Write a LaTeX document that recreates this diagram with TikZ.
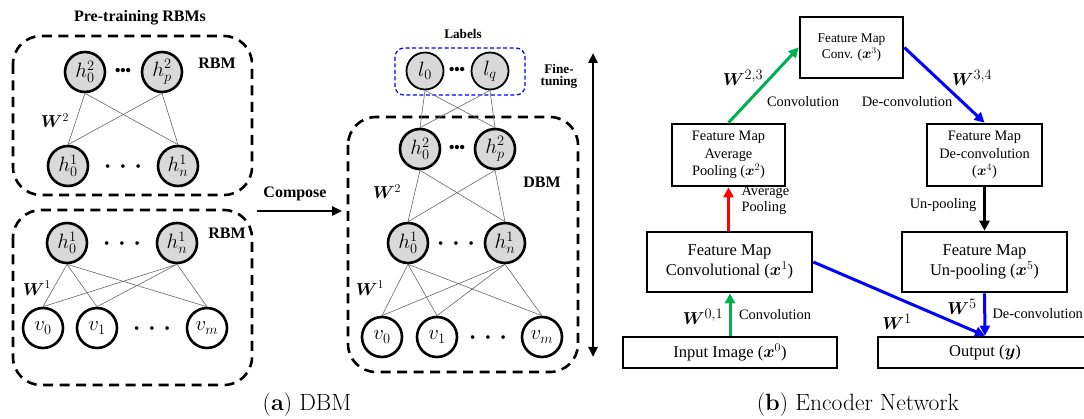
\documentclass[tikz,border=0pt]{standalone}
\usepackage{amsmath,bm}
\usepackage{fontspec}
\setmainfont{Liberation Serif}
\newfontfamily\lmfont{Latin Modern Roman}
\usetikzlibrary{arrows.meta}
\definecolor{hidgray}{HTML}{D9D9D9}
\definecolor{cgreen}{HTML}{00B050}
\definecolor{cred}{HTML}{FF0000}
\definecolor{cblue}{HTML}{0000FF}
\begin{document}
\begin{tikzpicture}[x=1pt,y=-1pt,
 unit/.style={circle,draw,line width=2.6pt,minimum size=40pt,inner sep=0pt,font=\fontsize{20}{22}\selectfont},
 hid/.style={unit,fill=hidgray},
 labu/.style={hid,minimum size=37pt,line width=1.8pt},
 conn/.style={draw=black!60,line width=0.6pt},
 dbox/.style={draw,line width=2.6pt,dash pattern=on 10pt off 6.5pt,rounded corners=28pt},
 blab/.style={font=\bfseries\fontsize{16}{18}\selectfont,align=center},
 slab/.style={font=\bfseries\fontsize{13.2}{15}\selectfont,align=center},
 wlab/.style={font=\fontsize{17}{19}\selectfont},
 wlabb/.style={font=\fontsize{19}{21}\selectfont},
 tdots/.style={font=\fontsize{18}{18}\selectfont,inner sep=0pt},
 sdots/.style={font=\fontsize{15}{15}\selectfont,inner sep=0pt},
 fbox/.style={draw,line width=2.6pt,align=center,inner sep=0pt},
 alab/.style={font=\fontsize{14.4}{16}\selectfont,align=left},
 arr/.style={line width=3pt,-{Triangle[length=10pt,width=10pt]}},
 caption/.style={font=\lmfont\fontsize{23.5}{26}\selectfont},
]
\useasboundingbox (0,0) rectangle (1084,419);

% ---------- (a) DBM ----------
\node[blab] (pretitle) at (140,18) {Pre-training RBMs};
\draw[dbox] (13,36) rectangle (252,195);
\draw[dbox] (13,210) rectangle (252,385);
\node[blab] (rbm1) at (217,63) {RBM};
\node[blab] (rbm2) at (227,233) {RBM};

% top RBM
\node[hid] (ta0) at (85,72) {$h_0^2$};
\node[hid] (tap) at (162,72) {$h_p^2$};
\node[tdots] (tadots) at (123,72) {\textbullet\kern-1pt\textbullet\kern-1pt\textbullet};
\node[hid] (tb0) at (68,166) {$h_0^1$};
\node[hid] (tbn) at (178,166) {$h_n^1$};
\node[sdots] (tbdots) at (123,168) {\textbullet\hspace{10pt}\textbullet\hspace{10pt}\textbullet};
\node[wlab] (tw2) at (55,121) {$\bm{W}^2$};
\foreach \a in {ta0,tap}{\foreach \b in {tb0,tbn}{\draw[conn] (\a.south) -- (\b.north);}}

% bottom RBM
\node[hid] (ba0) at (67,243) {$h_0^1$};
\node[hid] (ban) at (177,243) {$h_n^1$};
\node[sdots] (badots) at (122,245) {\textbullet\hspace{10pt}\textbullet\hspace{10pt}\textbullet};
\node[unit] (bv0) at (43,328) {$v_0$};
\node[unit] (bv1) at (97,328) {$v_1$};
\node[unit] (bvm) at (207,328) {$v_m$};
\node[sdots] (bvdots) at (152,330) {\textbullet\hspace{10pt}\textbullet\hspace{10pt}\textbullet};
\node[wlab] (bw1) at (37,288) {$\bm{W}^1$};
\foreach \a in {ba0,ban}{\foreach \b in {bv0,bv1,bvm}{\draw[conn] (\a.south) -- (\b.north);}}

% compose
\coordinate (cs) at (257,211);
\coordinate (ce) at (342,211);
\draw[line width=2.4pt,-{Triangle[length=10pt,width=9pt]}] (cs) -- (ce);
\node[blab] (compose) at (295,194) {Compose};

% DBM
\node[slab] (labels) at (463,34) {Labels};
\draw[cblue,line width=1.2pt,dash pattern=on 4pt off 2.5pt,rounded corners=9pt] (395,48) rectangle (525,95);
\node[labu] (l0) at (425,71) {$l_0$};
\node[labu] (lq) at (490,71) {$l_q$};
\node[tdots] (ldots) at (457,71) {\textbullet\kern-1pt\textbullet\kern-1pt\textbullet};
\node[slab] (fine) at (559,76) {Fine-\\[-3pt]tuning};
\coordinate (fa) at (593,53);
\coordinate (fb) at (593,357);
\draw[line width=2.4pt,{Triangle[length=10pt,width=9pt]}-{Triangle[length=10pt,width=9pt]}] (fa) -- (fb);

\draw[dbox] (348,117) rectangle (578,372);
\node[blab] (dbm) at (542,182) {DBM};
\node[hid] (d20) at (420,149) {$h_0^2$};
\node[hid] (d2p) at (495,149) {$h_p^2$};
\node[tdots] (d2dots) at (457,149) {\textbullet\kern-1pt\textbullet\kern-1pt\textbullet};
\node[hid] (d10) at (408,243) {$h_0^1$};
\node[hid] (d1n) at (505,243) {$h_n^1$};
\node[sdots] (d1dots) at (456,245) {\textbullet\hspace{10pt}\textbullet\hspace{10pt}\textbullet};
\node[unit] (dv0) at (382,337) {$v_0$};
\node[unit] (dv1) at (437,337) {$v_1$};
\node[unit] (dvm) at (542,337) {$v_m$};
\node[sdots] (dvdots) at (488,339) {\textbullet\hspace{10pt}\textbullet\hspace{10pt}\textbullet};
\node[wlab] (dw2) at (387,192) {$\bm{W}^2$};
\node[wlab] (dw1) at (370,288) {$\bm{W}^1$};
\foreach \a in {l0,lq}{\foreach \b in {d20,d2p}{\draw[conn] (\a.south) -- (\b.north);}}
\foreach \a in {d20,d2p}{\foreach \b in {d10,d1n}{\draw[conn] (\a.south) -- (\b.north);}}
\foreach \a in {d10,d1n}{\foreach \b in {dv0,dv1,dvm}{\draw[conn] (\a.south) -- (\b.north);}}

\node[caption] (capa) at (307,405) {(\textbf{a}) DBM};

% ---------- (b) Encoder Network ----------
\node[fbox,font=\fontsize{13.3}{16.5}\selectfont,minimum width=103pt,minimum height=61pt] (c3) at (851.5,47.5) {Feature Map\\Conv. ($\bm{x}^3$)};
\node[fbox,font=\fontsize{14.4}{17.5}\selectfont,minimum width=113pt,minimum height=62pt] (avg) at (728.5,155) {Feature Map\\Average\\Pooling ($\bm{x}^2$)};
\node[fbox,font=\fontsize{14.4}{17.5}\selectfont,minimum width=115pt,minimum height=62pt] (dec) at (984.5,155) {Feature Map\\De-convolution\\($\bm{x}^4$)};
\node[fbox,font=\fontsize{16.5}{20}\selectfont,minimum width=165pt,minimum height=60pt] (c1) at (729.5,262) {Feature Map\\Convolutional ($\bm{x}^1$)};
\node[fbox,font=\fontsize{16.5}{20}\selectfont,minimum width=165pt,minimum height=60pt] (unp) at (984.5,262) {Feature Map\\Un-pooling ($\bm{x}^5$)};
\node[fbox,font=\fontsize{16.5}{20}\selectfont,minimum width=214pt,minimum height=31pt] (inp) at (730,352.5) {Input Image ($\bm{x}^0$)};
\node[fbox,font=\fontsize{16.5}{20}\selectfont,minimum width=214pt,minimum height=31pt] (out) at (985,352.5) {Output ($\bm{y}$)};

\draw[arr,cgreen] (inp.north) -- (inp.north |- c1.south);
\draw[arr,cred] (c1.north -| avg.south) -- (avg.south);
\draw[arr,cgreen] (avg.north) -- (c3.west);
\draw[arr,cblue] (c3.east) -- (dec.north);
\draw[arr,black] (dec.south) -- (unp.north);
\draw[arr,cblue] (unp.south) -- (out.north);
\draw[arr,cblue] (c1.east) -- (out.north);

\node[wlabb] (w01) at (703,317) {$\bm{W}^{0,1}$};
\node[alab] (lconv1) at (775,315) {Convolution};
\node[alab,anchor=west] (lavg) at (738,200) {Average\\Pooling};
\node[wlabb] (w23) at (743,78) {$\bm{W}^{2,3}$};
\node[alab] (lconv2) at (803,102) {Convolution};
\node[wlabb] (w34) at (972,78) {$\bm{W}^{3,4}$};
\node[alab] (ldeconv1) at (907,102) {De-convolution};
\node[alab] (lunpool) at (943,205) {Un-pooling};
\node[wlabb] (w5) at (962,307) {$\bm{W}^{5}$};
\node[alab,anchor=west] (ldeconv2) at (989,314) {De-convolution};
\node[wlabb] (w1) at (897,322) {$\bm{W}^{1}$};

\node[caption] (capb) at (858,405) {(\textbf{b}) Encoder Network};
\end{tikzpicture}
\end{document}
